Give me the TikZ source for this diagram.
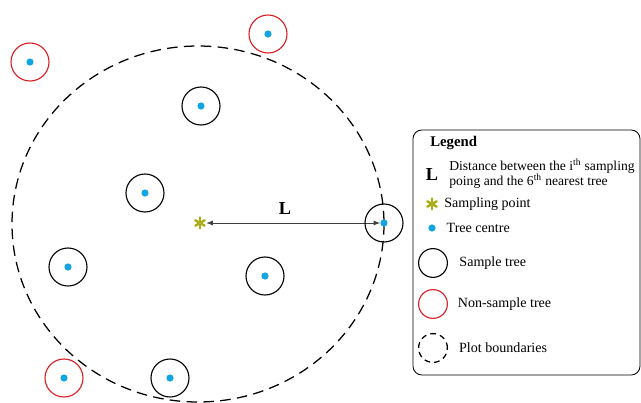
\documentclass[tikz,border=0pt]{standalone}
\usepackage{fontspec}
\setmainfont{Liberation Serif}
\usetikzlibrary{arrows,positioning}
\pgfdeclarelayer{background}
\pgfdeclarelayer{edgelayer}
\pgfdeclarelayer{nodelayer}
\pgfsetlayers{background,edgelayer,nodelayer,main}
\definecolor{centreblue}{RGB}{18,165,228}
\definecolor{pointolive}{RGB}{168,172,20}
\tikzstyle{none}=[inner sep=0mm]
\tikzstyle{tc}=[shape=circle,fill=centreblue,inner sep=0pt,minimum size=0.18cm]
\tikzstyle{st}=[shape=circle,draw=black,line width=0.8pt,inner sep=0pt,minimum size=0.95cm]
\tikzstyle{nst}=[st,draw={rgb,255:red,220;green,30;blue,35}]
\tikzstyle{lst}=[st,minimum size=0.72cm]
\tikzstyle{lnst}=[nst,minimum size=0.72cm]
\tikzstyle{bound}=[draw=black,line width=0.9pt,dash pattern=on 7.5pt off 4.5pt]
\tikzstyle{lbl}=[anchor=west,font=\fontsize{10}{12}\selectfont,inner sep=0pt]
\tikzstyle{sp}=[shape=circle,inner sep=0pt,minimum size=0.3cm]
\tikzstyle{arm}=[draw=pointolive,line width=1.7pt,line cap=round]

\begin{document}
\begin{tikzpicture}[x=0.025cm,y=-0.025cm]
	\useasboundingbox (0,0) rectangle (641,403);
	\begin{pgfonlayer}{nodelayer}
		\node [style=sp] (spt) at (200,223) {};
		\node [style=tc] (c1) at (201,106) {};
		\node [style=tc] (c2) at (145,193) {};
		\node [style=tc] (c3) at (68,267) {};
		\node [style=tc] (c4) at (265,276) {};
		\node [style=tc] (c5) at (170,378) {};
		\node [style=tc] (c6) at (384,223) {};
		\node [style=tc] (c7) at (30,62) {};
		\node [style=tc] (c8) at (268,34) {};
		\node [style=tc] (c9) at (64,378) {};
		\node [style=st] (t1) at (c1) {};
		\node [style=st] (t2) at (c2) {};
		\node [style=st] (t3) at (c3) {};
		\node [style=st] (t4) at (c4) {};
		\node [style=st] (t5) at (c5) {};
		\node [style=st] (t6) at (c6) {};
		\node [style=nst] (t7) at (c7) {};
		\node [style=nst] (t8) at (c8) {};
		\node [style=nst] (t9) at (c9) {};
		\node [style=none,font=\bfseries\fontsize{13}{13}\selectfont] (L) at (285,209) {L};
		\node [style=lbl,font=\bfseries\fontsize{10.5}{12}\selectfont] (legend) at (430,143) {Legend};
		\node [style=none,font=\bfseries\fontsize{13}{13}\selectfont] (kL) at (432,175) {L};
		\node [style=lbl,align=left,font=\fontsize{9.7}{10.6}\selectfont] (dL) at (449,174) {Distance between the i\textsuperscript{th} sampling\\poing and the 6\textsuperscript{th} nearest tree};
		\node [style=sp] (ksp) at (432,204) {};
		\node [style=lbl,right=0.3cm of ksp.center] (dsp) {Sampling point};
		\node [style=tc] (kc) at (432,228) {};
		\node [style=lbl,right=0.36cm of kc.center] (dc) {Tree centre};
		\node [style=lst] (kst) at (433,263) {};
		\node [style=lbl,right=0.28cm of kst] (dst) {Sample tree};
		\node [style=lnst] (knst) at (433,304) {};
		\node [style=lbl,right=0.24cm of knst] (dnst) {Non-sample tree};
		\node [style=none,minimum size=0.72cm,shape=circle] (kb) at (433,348) {};
		\node [style=lbl,right=0.28cm of kb] (db) {Plot boundaries};
		\foreach \a in {90,150,...,450} {
			\draw [style=arm] (spt) ++(\a:0.035cm) -- ++(\a:0.1cm);
			\draw [style=arm] (ksp) ++(\a:0.035cm) -- ++(\a:0.1cm);
		}
	\end{pgfonlayer}
	\begin{pgfonlayer}{edgelayer}
		\draw [style=bound] (198,224) ellipse (186 and 178);
		\draw [style=bound,dash pattern=on 4pt off 3pt] (kb) circle (0.36cm);
		\draw [latex-latex,line width=0.6pt,color=black!75] (spt) to (c6);
		\draw [line width=0.6pt,rounded corners=0.22cm] (413,130) rectangle (640,375);
	\end{pgfonlayer}
\end{tikzpicture}
\end{document}
